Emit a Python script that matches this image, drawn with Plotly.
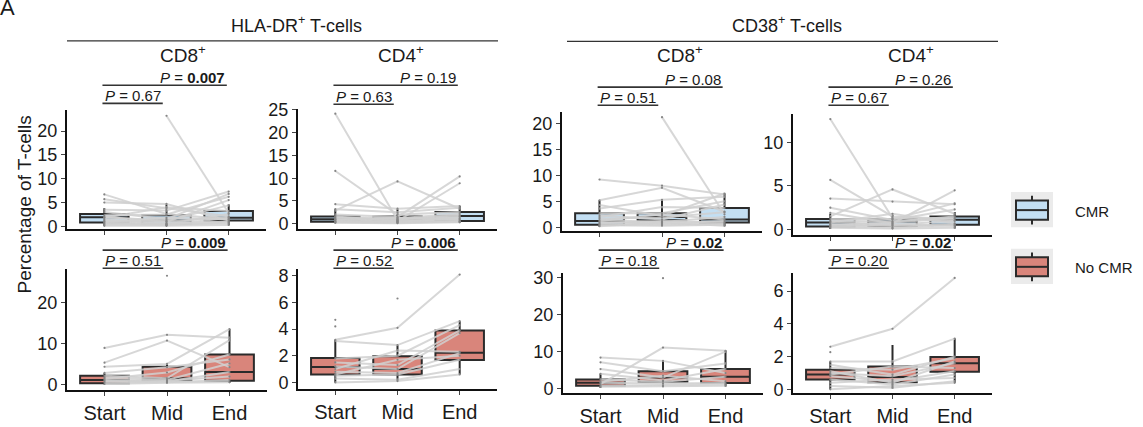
import plotly.graph_objects as go

W, H = 1143, 427
FONT = "Liberation Sans, Arial, sans-serif"

categories = ["Start", "Mid", "End"]
cat_pos = [1, 2, 3]

# ---------------- data ----------------
# HLA-DR+ CD8+ , CMR
hla_cd8_cmr_box = dict(q1=[0.8, 0.5, 1.2], median=[1.9, 1.2, 1.8], q3=[2.6, 2.3, 3.2],
                       lowerfence=[0.1, 0.0, 0.2], upperfence=[3.8, 4.7, 4.6])
hla_cd8_cmr_pts = [
    [6.7, 2.6, 1.5], [5.7, 3.8, 2.1], [5.0, 4.7, 1.2], [3.5, 3.3, 7.3], [3.0, 1.5, 6.8],
    [None, 23.2, 2.8], [2.3, 2.5, 6.2], [2.0, 0.9, 5.5], [1.9, 1.2, 4.4], [1.8, 4.0, 3.2],
    [1.5, 0.5, 2.6], [1.2, 1.0, 1.9], [1.0, 0.3, 1.8], [0.9, 1.8, 1.5], [0.7, 0.6, 1.0],
    [0.5, 0.2, 0.8], [0.3, 0.4, 0.6], [0.1, 0.1, 0.3]]
hla_cd8_cmr_p = ["0.67", "0.007"]

# HLA-DR+ CD4+ , CMR
hla_cd4_cmr_box = dict(q1=[0.45, 0.4, 0.6], median=[1.0, 0.9, 1.7], q3=[1.6, 1.6, 2.6],
                       lowerfence=[0.1, 0.1, 0.3], upperfence=[3.2, 3.3, 3.9])
hla_cd4_cmr_pts = [
    [24.2, 0.8, 1.2], [11.6, 2.0, 2.6], [4.3, 3.3, 3.9], [3.2, 2.5, 3.5], [2.9, 9.3, 3.3],
    [2.0, 1.5, 10.4], [1.6, 0.6, 8.9], [1.4, 1.2, 2.2], [1.2, 0.9, 1.9], [1.0, 1.0, 1.7],
    [0.9, 0.4, 1.5], [0.8, 1.3, 1.0], [0.6, 0.5, 0.8], [0.5, 0.3, 0.6], [0.4, 0.2, 0.5],
    [0.3, 0.7, 0.4], [0.2, 0.1, 0.3]]
hla_cd4_cmr_p = ["0.63", "0.19"]

# CD38+ CD8+ , CMR
cd38_cd8_cmr_box = dict(q1=[0.5, 1.35, 0.9], median=[1.2, 2.0, 1.5], q3=[2.7, 2.7, 3.7],
                        lowerfence=[0.1, 0.3, 0.2], upperfence=[5.2, 5.3, 6.5])
cd38_cd8_cmr_pts = [
    [9.2, 8.0, 6.3], [5.2, 7.6, 3.0], [4.3, 2.2, 6.5], [3.6, 5.3, 5.9], [None, 21.2, 2.5],
    [2.7, 2.7, 5.0], [2.3, 1.5, 4.4], [2.0, 3.9, 3.7], [1.7, 1.9, 2.9], [1.4, 1.0, 2.0],
    [1.2, 2.5, 1.5], [1.0, 0.7, 1.2], [0.8, 1.2, 0.9], [0.6, 0.5, 0.7], [0.4, 0.3, 0.5],
    [0.2, 0.9, 0.3]]
cd38_cd8_cmr_p = ["0.51", "0.08"]

# CD38+ CD4+ , CMR
cd38_cd4_cmr_box = dict(q1=[0.35, 0.4, 0.55], median=[0.8, 0.9, 1.1], q3=[1.2, 1.2, 1.5],
                        lowerfence=[0.05, 0.05, 0.1], upperfence=[1.8, 1.8, 2.0])
cd38_cd4_cmr_pts = [
    [12.7, 1.3, 1.0], [5.7, 1.5, 1.2], [3.55, 3.2, 2.9], [2.5, 1.1, 2.3], [1.9, 0.7, 4.5],
    [1.5, 4.6, 1.8], [1.2, 1.2, 3.0], [1.0, 0.9, 1.5], [0.9, 0.5, 1.0], [0.8, 1.8, 0.7],
    [0.6, 0.4, 0.6], [0.5, 0.8, 1.3], [0.4, 0.2, 0.5], [0.3, 0.6, 0.4], [0.2, 0.1, 0.2]]
cd38_cd4_cmr_p = ["0.67", "0.26"]

# HLA-DR+ CD8+ , No CMR
hla_cd8_ncmr_box = dict(q1=[0.4, 1.1, 1.0], median=[1.2, 1.6, 3.1], q3=[2.2, 4.4, 7.4],
                        lowerfence=[0.1, 0.4, 0.5], upperfence=[2.9, 5.1, 13.6])
hla_cd8_ncmr_pts = [
    [9.0, 12.2, 11.5], [5.4, 10.8, 4.3], [4.4, 5.1, 13.6], [2.9, 4.3, 6.2], [2.2, 1.6, 10.9],
    [1.8, 1.2, 5.2], [None, 26.6, None], [1.5, 3.0, 7.4], [1.2, 1.0, 2.0], [0.9, 0.8, 3.1],
    [0.6, 0.6, 1.2], [0.2, 0.5, 0.6]]
hla_cd8_ncmr_p = ["0.51", "0.009"]

# HLA-DR+ CD4+ , No CMR
hla_cd4_ncmr_box = dict(q1=[0.6, 0.6, 1.68], median=[1.15, 1.0, 2.22], q3=[1.84, 1.96, 3.9],
                        lowerfence=[0.0, 0.1, 0.6], upperfence=[3.2, 2.8, 4.6])
hla_cd4_ncmr_pts = [
    [3.2, 4.1, 8.1], [4.7, None, None], [4.2, None, None], [None, 6.3, None],
    [3.1, 2.8, 4.6], [1.8, 2.0, 4.3], [1.5, 1.3, 3.9], [1.2, 1.0, 3.7], [1.0, 2.4, 2.3],
    [0.8, 0.7, 2.2], [0.6, 1.7, 2.0], [0.5, 0.6, 1.7], [0.3, 0.2, 1.0], [0.0, 0.1, 0.6]]
hla_cd4_ncmr_p = ["0.52", "0.006"]

# CD38+ CD8+ , No CMR
cd38_cd8_ncmr_box = dict(q1=[0.8, 1.9, 1.5], median=[1.6, 3.0, 3.2], q3=[2.5, 4.7, 5.3],
                         lowerfence=[0.2, 0.5, 0.6], upperfence=[4.0, 7.5, 10.3])
cd38_cd8_ncmr_pts = [
    [1.2, 11.1, 10.2], [8.4, 7.5, 4.2], [7.1, 4.7, 6.8], [5.3, 3.0, 10.0], [None, 29.8, None],
    [4.0, 2.2, 5.3], [2.5, 1.9, 3.2], [1.9, 3.5, 2.0], [1.6, 1.4, 1.5], [0.8, 0.9, 1.2],
    [0.5, 0.6, 0.8]]
cd38_cd8_ncmr_p = ["0.18", "0.02"]

# CD38+ CD4+ , No CMR
cd38_cd4_ncmr_box = dict(q1=[0.6, 0.43, 1.07], median=[0.9, 0.75, 1.6], q3=[1.2, 1.4, 1.98],
                         lowerfence=[0.0, 0.05, 0.4], upperfence=[1.7, 2.7, 3.1])
cd38_cd4_ncmr_pts = [
    [2.6, 3.7, 6.8], [2.27, None, None], [1.7, 1.7, 3.1], [1.5, 0.9, 2.0], [1.3, 1.2, 1.9],
    [1.1, 0.4, 1.7], [1.0, 0.8, 1.6], [0.9, 1.4, 1.3], [0.8, 0.5, 1.1], [0.6, 0.3, 0.9],
    [0.4, 0.6, 0.7], [0.2, 0.1, 0.5], [0.0, 0.2, 0.4]]
cd38_cd4_ncmr_p = ["0.20", "0.02"]

significant = ["0.007", "0.009", "0.006", "0.02"]

groups = ["CMR", "No CMR"]
headers = ["HLA-DR<sup>+</sup> T-cells", "CD38<sup>+</sup> T-cells"]
subtitles = ["CD8<sup>+</sup>", "CD4<sup>+</sup>", "CD8<sup>+</sup>", "CD4<sup>+</sup>"]
y_title = "Percentage of T-cells"

# ---------------- styles & layout (pixels) ----------------
CMR_FILL = "#c3dff3"
NCMR_FILL = "#d9857b"
DARK = "#2b2b2b"

panels = [
    dict(box=hla_cd8_cmr_box, pts=hla_cd8_cmr_pts, p=hla_cd8_cmr_p, fill=CMR_FILL,
         px=(67, 266), py=(106, 231), yr=(-0.6, 24.4), ticks=[0, 5, 10, 15, 20], br=(99, 80), lab=False),
    dict(box=hla_cd4_cmr_box, pts=hla_cd4_cmr_pts, p=hla_cd4_cmr_p, fill=CMR_FILL,
         px=(298, 497), py=(105, 231), yr=(-1.2, 25.2), ticks=[0, 5, 10, 15, 20, 25], br=(100, 80), lab=False),
    dict(box=cd38_cd8_cmr_box, pts=cd38_cd8_cmr_pts, p=cd38_cd8_cmr_p, fill=CMR_FILL,
         px=(562, 762), py=(108, 233), yr=(-0.73, 22.2), ticks=[0, 5, 10, 15, 20], br=(101, 82), lab=False),
    dict(box=cd38_cd4_cmr_box, pts=cd38_cd4_cmr_pts, p=cd38_cd4_cmr_p, fill=CMR_FILL,
         px=(793, 992), py=(110, 237), yr=(-0.63, 13.3), ticks=[0, 5, 10], br=(101, 82), lab=False),
    dict(box=hla_cd8_ncmr_box, pts=hla_cd8_ncmr_pts, p=hla_cd8_ncmr_p, fill=NCMR_FILL,
         px=(67, 267), py=(273, 400), yr=(-1.33, 28.2), ticks=[0, 10, 20], br=(272, 253), lab=True),
    dict(box=hla_cd4_ncmr_box, pts=hla_cd4_ncmr_pts, p=hla_cd4_ncmr_p, fill=NCMR_FILL,
         px=(298, 497), py=(273, 399), yr=(-0.52, 8.5), ticks=[0, 2, 4, 6, 8], br=(272, 253), lab=True),
    dict(box=cd38_cd8_ncmr_box, pts=cd38_cd8_ncmr_pts, p=cd38_cd8_ncmr_p, fill=NCMR_FILL,
         px=(563, 763), py=(277, 403), yr=(-1.2, 31.2), ticks=[0, 10, 20, 30], br=(272, 253), lab=True),
    dict(box=cd38_cd4_ncmr_box, pts=cd38_cd4_ncmr_pts, p=cd38_cd4_ncmr_p, fill=NCMR_FILL,
         px=(793, 992), py=(277, 403), yr=(-0.23, 7.1), ticks=[0, 2, 4, 6], br=(272, 253), lab=True),
]

XR = (0.4, 3.6)


def fx(px):
    return px / W


def fy(py):
    return 1 - py / H


def cat_to_px(panel, xv):
    x0, x1 = panel["px"]
    return x0 + (xv - XR[0]) / (XR[1] - XR[0]) * (x1 - x0)


fig = go.Figure()
shapes = []
annotations = []
layout_axes = {}

for i, pn in enumerate(panels, start=1):
    xa = "x" if i == 1 else f"x{i}"
    ya = "y" if i == 1 else f"y{i}"
    b = pn["box"]
    fig.add_trace(go.Box(
        x=cat_pos, q1=b["q1"], median=b["median"], q3=b["q3"],
        lowerfence=b["lowerfence"], upperfence=b["upperfence"],
        width=0.78, fillcolor=pn["fill"], line=dict(color=DARK, width=2),
        whiskerwidth=0, boxpoints=False, xaxis=xa, yaxis=ya,
        showlegend=False, hoverinfo="skip"))
    xs, ys = [], []
    for traj in pn["pts"]:
        xs += cat_pos + [None]
        ys += list(traj) + [None]
    fig.add_trace(go.Scatter(
        x=xs, y=ys, mode="lines+markers", connectgaps=False,
        line=dict(color="rgba(208,208,208,0.85)", width=2),
        marker=dict(size=2.2, color="#858585"),
        xaxis=xa, yaxis=ya, showlegend=False, hoverinfo="skip"))

    axkey = "xaxis" if i == 1 else f"xaxis{i}"
    aykey = "yaxis" if i == 1 else f"yaxis{i}"
    layout_axes[axkey] = dict(
        domain=[fx(pn["px"][0]), fx(pn["px"][1])], range=list(XR), anchor=ya,
        tickvals=cat_pos, ticktext=categories, showticklabels=pn["lab"],
        tickfont=dict(size=20, color="#1a1a1a", family=FONT),
        showline=True, linecolor="#111", linewidth=2, ticks="outside", ticklen=4,
        tickcolor="#444", tickwidth=1, showgrid=False, zeroline=False, fixedrange=True)
    layout_axes[aykey] = dict(
        domain=[fy(pn["py"][1]), fy(pn["py"][0])], range=list(pn["yr"]), anchor=xa,
        tickvals=pn["ticks"], tickfont=dict(size=18, color="#1a1a1a", family=FONT),
        showline=True, linecolor="#111", linewidth=2, ticks="outside", ticklen=4,
        tickcolor="#444", tickwidth=1, showgrid=False, zeroline=False, fixedrange=True)

    # significance brackets
    x_start = cat_to_px(pn, 0.97)
    ends = [cat_to_px(pn, 1.94), cat_to_px(pn, 2.97)]
    for k in range(2):
        yline = pn["br"][k]
        shapes.append(dict(type="line", xref="paper", yref="paper",
                           x0=fx(x_start), x1=fx(ends[k]), y0=fy(yline), y1=fy(yline),
                           line=dict(color="#333", width=1.6)))
        val = pn["p"][k]
        vtxt = f"<b>{val}</b>" if val in significant else val
        annotations.append(dict(text=f"<i>P</i> = {vtxt}", xref="paper", yref="paper",
                                x=fx(ends[k]), y=fy(yline - 8), xanchor="right", yanchor="middle",
                                showarrow=False, font=dict(size=15, color="#1a1a1a", family=FONT)))

# headers
for txt, cx, (l0, l1), ly in [(headers[0], 296, (67, 498), 33.5), (headers[1], 787, (567, 998), 34)]:
    annotations.append(dict(text=txt, xref="paper", yref="paper", x=fx(cx), y=fy(16),
                            xanchor="center", yanchor="middle", showarrow=False,
                            font=dict(size=18, color="#1a1a1a", family=FONT)))
    shapes.append(dict(type="line", xref="paper", yref="paper", x0=fx(l0), x1=fx(l1),
                       y0=fy(ly), y1=fy(ly), line=dict(color="#333", width=1.2)))

for txt, cx in zip(subtitles, [183, 401, 680, 911]):
    annotations.append(dict(text=txt, xref="paper", yref="paper", x=fx(cx), y=fy(47),
                            xanchor="center", yanchor="middle", showarrow=False,
                            font=dict(size=19, color="#1a1a1a", family=FONT)))

# y title
annotations.append(dict(text=y_title, xref="paper", yref="paper", x=fx(24), y=fy(205),
                        xanchor="center", yanchor="middle", textangle=-90, showarrow=False,
                        font=dict(size=19, color="#1a1a1a", family=FONT)))
# panel letter (cut by the top edge in the original)
annotations.append(dict(text="A", xref="paper", yref="paper", x=fx(7), y=fy(-2),
                        xanchor="center", yanchor="middle", showarrow=False,
                        font=dict(size=22, color="#1a1a1a", family=FONT)))

# legend (drawn manually)
for grp, fill, top in [(groups[0], CMR_FILL, 192), (groups[1], NCMR_FILL, 251.5)]:
    shapes.append(dict(type="rect", xref="paper", yref="paper", x0=fx(1011), x1=fx(1053),
                       y0=fy(top + 37), y1=fy(top), fillcolor="#ebebeb", line=dict(width=0)))
    mid = top + 19
    shapes.append(dict(type="line", xref="paper", yref="paper", x0=fx(1032), x1=fx(1032),
                       y0=fy(mid - 15), y1=fy(mid + 15), line=dict(color=DARK, width=2)))
    shapes.append(dict(type="rect", xref="paper", yref="paper", x0=fx(1016), x1=fx(1048),
                       y0=fy(mid + 10), y1=fy(mid - 10), fillcolor=fill, line=dict(color=DARK, width=2)))
    shapes.append(dict(type="line", xref="paper", yref="paper", x0=fx(1016), x1=fx(1048),
                       y0=fy(mid), y1=fy(mid), line=dict(color=DARK, width=2)))
    annotations.append(dict(text=grp, xref="paper", yref="paper", x=fx(1073), y=fy(mid + 1),
                            xanchor="left", yanchor="middle", showarrow=False,
                            font=dict(size=15, color="#1a1a1a", family=FONT)))

fig.update_layout(
    width=W, height=H, margin=dict(l=0, r=0, t=0, b=0),
    paper_bgcolor="white", plot_bgcolor="white",
    shapes=shapes, annotations=annotations, showlegend=False,
    font=dict(family=FONT), boxmode="overlay", **layout_axes)

fig.write_html("out.html", config={"displayModeBar": False},
               post_script="document.body.style.margin='0';document.body.style.padding='0';"
                           "document.body.style.overflow='hidden';")
